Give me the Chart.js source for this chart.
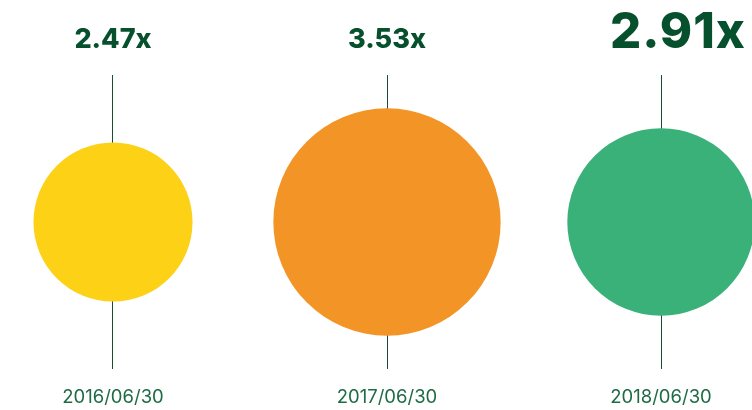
<!DOCTYPE html>
<html><head><meta charset="utf-8">
<script src="https://cdn.jsdelivr.net/npm/chart.js@4/dist/chart.umd.min.js"></script>
<style>html,body{margin:0;padding:0;background:#fff}#wrap{width:752px;height:410px}</style>
</head><body><div id="wrap"><canvas id="c" width="752" height="410"></canvas></div>
<script>
const categories = ["2016/06/30", "2017/06/30", "2018/06/30"];
const multiples = [2.47, 3.53, 2.91];
const valueLabels = ["2.47x", "3.53x", "2.91x"];
const colors = ["#FCD116", "#F39426", "#3AB179"];
const PX_PER_UNIT = 32.2;

const labelPlugin = {
  id: 'labels',
  afterDraw(chart) {
    const ctx = chart.ctx;
    const meta = chart.getDatasetMeta(0);
    ctx.save();
    ctx.textAlign = 'center';
    ctx.textBaseline = 'alphabetic';
    meta.data.forEach((pt, i) => {
      const big = i === chart.data.datasets[0].data.length - 1;
      ctx.fillStyle = '#07502D';
      if (big) {
        ctx.font = '800 49px Inter';
        ctx.letterSpacing = '1px';
        ctx.fillText(valueLabels[i], pt.x + 17, 48);
        ctx.letterSpacing = '0px';
      } else {
        ctx.font = '800 27px Inter';
        ctx.fillText(valueLabels[i], pt.x, 48);
      }
      ctx.fillStyle = '#1F6B45';
      ctx.font = '400 18.5px Inter';
      ctx.fillText(categories[i], pt.x, 403);
    });
    ctx.restore();
  }
};

new Chart(document.getElementById('c'), {
  type: 'bubble',
  data: {
    datasets: [{
      data: multiples.map((v, i) => ({ x: i, y: 0, r: v * PX_PER_UNIT })),
      backgroundColor: colors,
      borderWidth: 0,
      hoverBorderWidth: 0,
      hoverRadius: 0,
      clip: false
    }]
  },
  options: {
    responsive: false,
    animation: false,
    events: [],
    layout: { autoPadding: false, padding: { top: 75, bottom: 41, left: 0, right: 0 } },
    plugins: { legend: { display: false }, tooltip: { enabled: false } },
    scales: {
      x: {
        type: 'linear', min: -0.4124, max: 2.3321,
        afterBuildTicks: s => { s.ticks = categories.map((c, i) => ({ value: i })); },
        ticks: { display: false },
        border: { display: false },
        grid: { color: '#1B4D33', lineWidth: 1, drawTicks: false }
      },
      y: { min: -1, max: 1, display: false }
    }
  },
  plugins: [labelPlugin]
});
</script></body></html>
